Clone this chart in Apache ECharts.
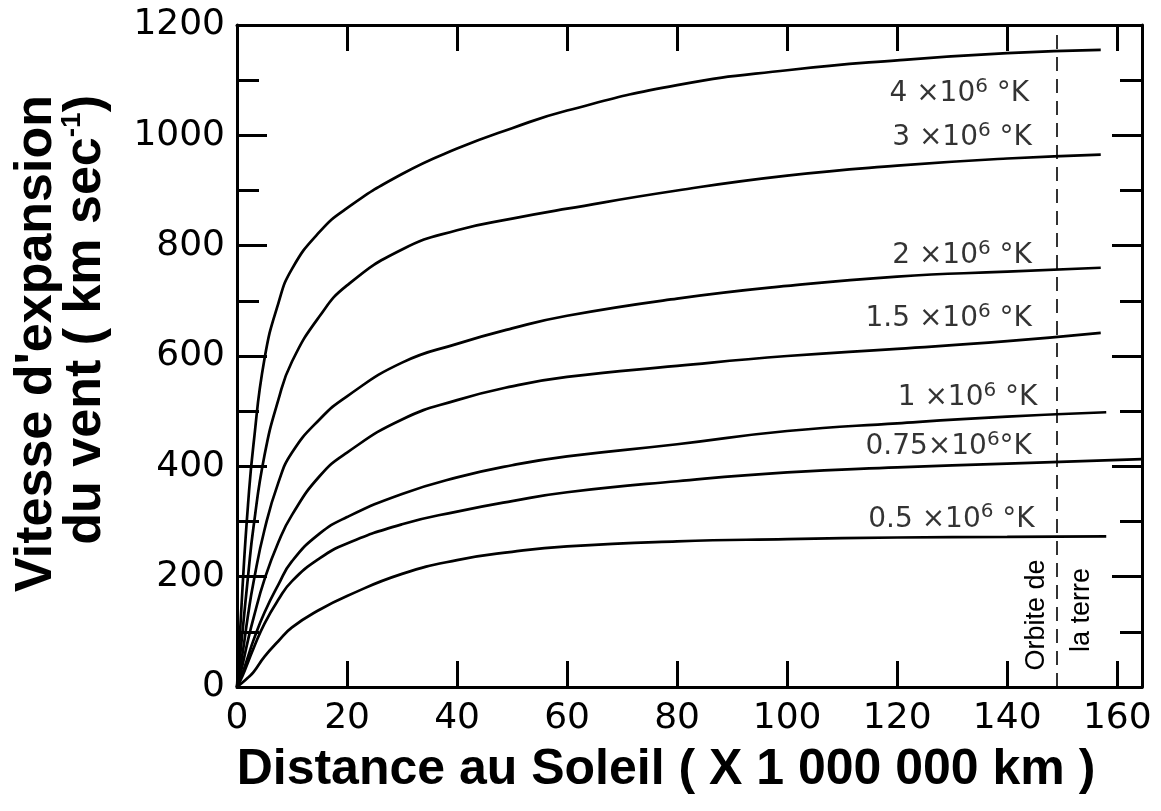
<!DOCTYPE html>
<html lang="fr">
<head>
<meta charset="UTF-8">
<title>Vitesse d'expansion du vent solaire</title>
<script src="https://cdn.jsdelivr.net/npm/echarts@6/dist/echarts.min.js"></script>
<style>
    html, body { margin: 0; background: #fff; }
    #chart { width: 1161px; height: 811px; }
</style>
</head>
<body>
<div id="chart"></div>
<script>
// distances (x 10^6 km) où les courbes sont lues ; le dernier point dépend de la courbe
const distances = [0, 1, 2, 3, 5, 7.5, 10, 15, 20, 30, 40, 50, 60, 80, 100, 120, 140, 157];
const endDist = [157, 157, 157, 157, 158, 164.5, 158];

// vitesses (km/s) pour chaque température de la couronne
const v4 = [0, 180, 330, 440, 595, 695, 758, 825, 868, 930, 976, 1013, 1045, 1091, 1118, 1136, 1149, 1155];
const v3 = [0, 100, 200, 290, 420, 520, 590, 672, 728, 793, 828, 849, 867, 900, 927, 945, 958, 965];
const v2 = [0, 60, 130, 190, 285, 370, 425, 485, 527, 588, 622, 650, 673, 704, 727, 744, 753, 760];
const v15 = [0, 40, 85, 125, 195, 262, 312, 382, 425, 485, 520, 545, 562, 582, 600, 613, 627, 642];
const v1 = [0, 25, 55, 85, 135, 185, 228, 278, 308, 350, 380, 402, 418, 440, 464, 478, 490, 498];
const v075 = [0, 20, 45, 70, 115, 158, 192, 233, 260, 295, 318, 337, 353, 373, 389, 398, 405, 413];
const v05 = [0, 8, 17, 27, 55, 83, 108, 140, 165, 205, 230, 245, 255, 264, 268, 271, 272, 273];

// étiquettes des courbes
const tempNames = ['4', '3', '2', '1.5', '1', '0.75', '0.5'];
const labelX = [144, 144.5, 144.5, 144.5, 145.5, 144.5, 145];
const labelY = [1076, 995, 782, 667, 525, 436, 304];

const xTicks = [0, 20, 40, 60, 80, 100, 120, 140, 160];
const orbitDist = 149;

const curves = [v4, v3, v2, v15, v1, v075, v05];

function toPoints(vals, k) {
    return vals.map((v, i) => [i === vals.length - 1 ? endDist[k] : distances[i], v]);
}

const black = '#000';
const lineSt = { color: black, width: 3 };

function xAxisCfg(pos, showLabel) {
    return {
        type: 'value', position: pos, min: 0, max: 164.5,
        axisLine: { show: true, onZero: false, lineStyle: lineSt },
        axisTick: { show: true, inside: true, length: 26, lineStyle: lineSt, customValues: xTicks },
        axisLabel: {
            show: showLabel, customValues: xTicks, margin: 14,
            fontSize: 36, color: black, fontFamily: 'DejaVu Sans'
        },
        splitLine: { show: false }
    };
}
function yAxisCfg(pos, showLabel) {
    return {
        type: 'value', position: pos, min: 0, max: 1200, interval: 200,
        axisLine: { show: true, onZero: false, lineStyle: lineSt },
        axisTick: { show: true, inside: true, length: 30, lineStyle: lineSt },
        minorTick: { show: true, splitNumber: 2, length: 22, lineStyle: lineSt },
        axisLabel: {
            show: showLabel, margin: 12, fontSize: 36, color: black, fontFamily: 'DejaVu Sans',
            formatter: v => String(v)
        },
        splitLine: { show: false },
        minorSplitLine: { show: false }
    };
}

const series = curves.map((vals, k) => ({
    type: 'line',
    xAxisIndex: 0, yAxisIndex: 0,
    data: toPoints(vals, k),
    smooth: 0.5,
    showSymbol: false,
    lineStyle: { color: black, width: 2.7 },
    silent: true
}));

// orbite de la terre
series[0].markLine = {
    silent: true,
    symbol: ['none', 'none'],
    label: { show: false },
    lineStyle: { color: black, width: 1.6, type: [14, 8] },
    data: [{ xAxis: orbitDist }]
};

// étiquettes "n x 10^6 °K"
series.push({
    type: 'scatter',
    xAxisIndex: 0, yAxisIndex: 0,
    symbolSize: 0,
    silent: true,
    data: tempNames.map((t, i) => ({ value: [labelX[i], labelY[i]], name: t })),
    label: {
        show: true,
        position: 'left',
        distance: 0,
        color: black,
        formatter: p => p.name === '0.75'
            ? '{b|' + p.name + '×10}{s|6}{b|°K}'
            : '{b|' + p.name + ' ×10}{s|6}{b| °K}',
        rich: {
            b: { fontSize: 28, fontFamily: 'DejaVu Sans', color: black, lineHeight: 34 },
            s: { fontSize: 20, fontFamily: 'DejaVu Sans', color: black, lineHeight: 20, verticalAlign: 'top' }
        }
    }
});

const chart = echarts.init(document.getElementById('chart'));
chart.setOption({
    animation: false,
    backgroundColor: '#fff',
    grid: { left: 237, right: 19, top: 25, bottom: 124 },
    xAxis: [xAxisCfg('bottom', true), xAxisCfg('top', false)],
    yAxis: [yAxisCfg('left', true), yAxisCfg('right', false)],
    series: series,
    graphic: [
        {
            type: 'text', x: 666, y: 770,
            style: {
                text: 'Distance au Soleil ( X 1 000 000 km )',
                font: 'bold 50px "Liberation Sans"', fill: black,
                align: 'center', verticalAlign: 'middle',
                textAlign: 'center', textVerticalAlign: 'middle'
            }
        },
        {
            type: 'text', x: 37, y: 95, rotation: Math.PI / 2,
            style: {
                text: "Vitesse d'expansion",
                font: 'bold 52px "Liberation Sans"', fill: black,
                align: 'right', verticalAlign: 'middle',
                textAlign: 'right', textVerticalAlign: 'middle'
            }
        },
        {
            type: 'text', x: 86, y: 95, rotation: Math.PI / 2,
            style: {
                text: '{b|du vent ( km sec}{s|-1}{b|)}',
                fill: black,
                align: 'right', verticalAlign: 'middle',
                textAlign: 'right', textVerticalAlign: 'middle',
                rich: {
                    b: { fontSize: 52, fontWeight: 'bold', fontFamily: 'Liberation Sans', fill: black, lineHeight: 56 },
                    s: { fontSize: 28, fontWeight: 'bold', fontFamily: 'Liberation Sans', fill: black, lineHeight: 28, verticalAlign: 'top' }
                }
            }
        },
        {
            type: 'text', x: 1037, y: 615, rotation: Math.PI / 2,
            style: {
                text: 'Orbite de', font: '27px "Liberation Sans"', fill: black,
                align: 'center', verticalAlign: 'middle',
                textAlign: 'center', textVerticalAlign: 'middle'
            }
        },
        {
            type: 'text', x: 1082, y: 610, rotation: Math.PI / 2,
            style: {
                text: 'la terre', font: '27px "Liberation Sans"', fill: black,
                align: 'center', verticalAlign: 'middle',
                textAlign: 'center', textVerticalAlign: 'middle'
            }
        }
    ]
});
</script>
</body>
</html>
